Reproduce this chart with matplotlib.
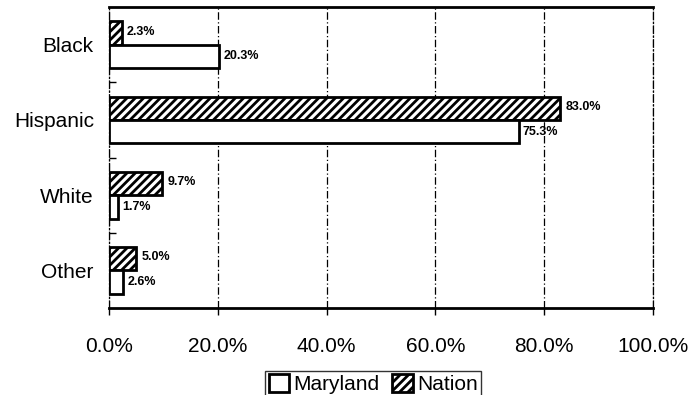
import matplotlib.pyplot as plt
import numpy as np

plt.rcParams.update({
	"font.family":["Liberation Sans","DejaVu Sans"],
	"hatch.linewidth":2.0,
})

categories=["Black","Hispanic","White","Other"]
maryland=[20.3,75.3,1.7,2.6]
nation=[2.3,83.0,9.7,5.0]
xticks=[0,20,40,60,80,100]

fig=plt.figure(figsize=(6.99,3.95),dpi=100)
ax=fig.add_axes([0.156,0.22,0.778,0.762])

y=np.arange(len(categories))
h=0.31
bn=ax.barh(y-h/2,nation,height=h,color='white',edgecolor='black',hatch='////',lw=2,label='Nation',zorder=3)
bm=ax.barh(y+h/2,maryland,height=h,color='white',edgecolor='black',lw=2,label='Maryland',zorder=3)

for i in range(len(categories)):
	ax.annotate('{:.1f}%'.format(nation[i]),(nation[i],y[i]-h/2),xytext=(4,1),textcoords='offset points',
		va='center',ha='left',fontsize=9,fontweight='bold')
	ax.annotate('{:.1f}%'.format(maryland[i]),(maryland[i],y[i]+h/2),xytext=(3,0),textcoords='offset points',
		va='center',ha='left',fontsize=9,fontweight='bold')

ax.set_xlim(0,100)
ax.set_ylim(len(categories)-0.5,-0.5)
ax.set_xticks(xticks)
ax.set_xticklabels(['{:.1f}%'.format(v) for v in xticks],fontsize=15)
ax.set_yticks(y)
ax.set_yticklabels(categories,fontsize=15)
ax.set_yticks(y[:-1]+0.5,minor=True)
ax.tick_params(axis='y',which='major',length=0,pad=11)
ax.tick_params(axis='y',which='minor',direction='in',length=5,width=1)
ax.tick_params(axis='x',which='major',length=5,width=1,pad=16)
ax.grid(axis='x',ls=(0,(6,2,1,2)),lw=0.9,c='k',zorder=1)

ax.spines['top'].set_linewidth(2)
ax.spines['bottom'].set_linewidth(2)
ax.spines['left'].set_linestyle((0,(6,2,1,2)))
ax.spines['right'].set_linestyle((0,(6,2,1,2)))
ax.spines['left'].set_linewidth(0.9)
ax.spines['right'].set_linewidth(0.9)

leg=fig.legend(handles=[bm,bn],loc='upper center',bbox_to_anchor=(0.534,0.062),ncol=2,fontsize=15,
	frameon=True,fancybox=False,edgecolor='k',handlelength=1.0,handleheight=1.0,handletextpad=0.2,
	columnspacing=0.6,borderpad=0.15,borderaxespad=0)
leg.get_frame().set_linewidth(1)

plt.savefig('out.png',dpi=100)
